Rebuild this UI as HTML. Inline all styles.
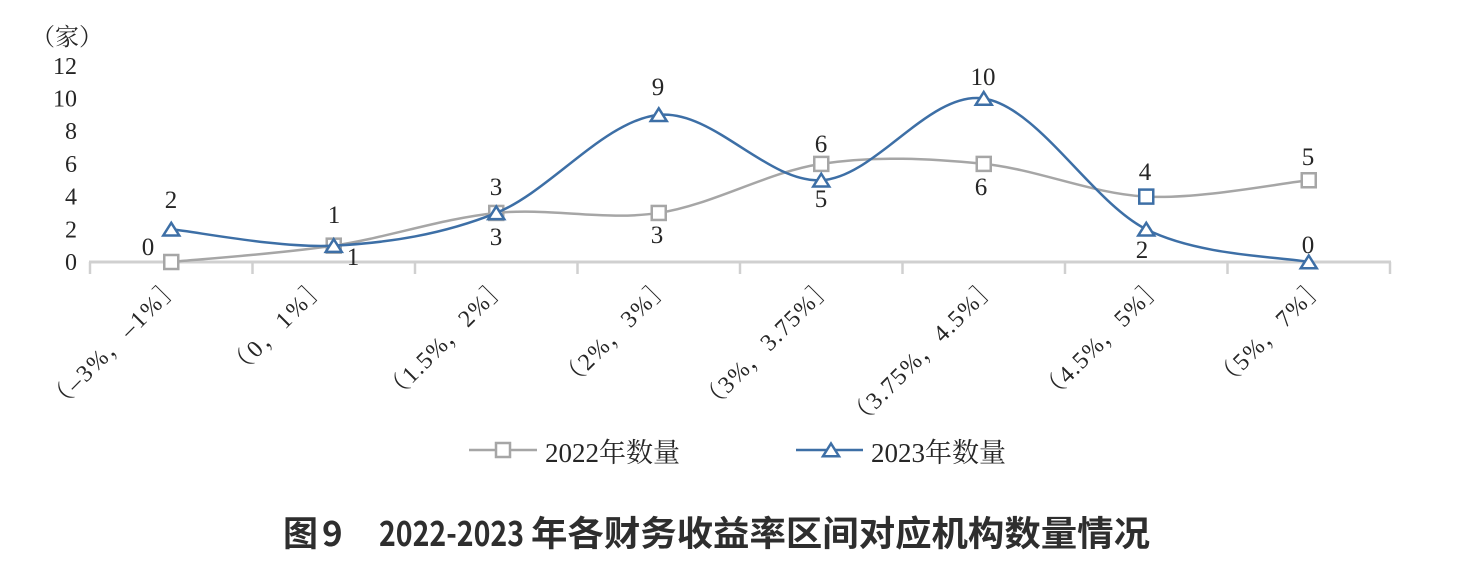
<!DOCTYPE html>
<html><head><meta charset="utf-8"><style>
html,body{margin:0;padding:0;background:#fff;}
svg{display:block;}
.t{font-family:"Liberation Serif","Noto Serif CJK SC",serif;fill:#262626;}
</style></head><body>
<svg width="1484" height="580" viewBox="0 0 1484 580" xmlns="http://www.w3.org/2000/svg">
<rect width="1484" height="580" fill="#fff"/>
<!-- unit label -->
<text class="t" x="31" y="45" font-size="24" textLength="72" lengthAdjust="spacingAndGlyphs">（家）</text>
<!-- y labels -->
<g class="t" font-size="24" text-anchor="end">
<text x="77" y="270">0</text>
<text x="77" y="237.3">2</text>
<text x="77" y="204.6">4</text>
<text x="77" y="171.9">6</text>
<text x="77" y="139.2">8</text>
<text x="77" y="106.5">10</text>
<text x="77" y="73.8">12</text>
</g>
<!-- axis -->
<line x1="89" y1="262" x2="1391" y2="262" stroke="#d0d0d0" stroke-width="3"/>
<g stroke="#d0d0d0" stroke-width="2.5">
<line x1="90" y1="262" x2="90" y2="274"/>
<line x1="252.5" y1="262" x2="252.5" y2="274"/>
<line x1="415" y1="262" x2="415" y2="274"/>
<line x1="577.5" y1="262" x2="577.5" y2="274"/>
<line x1="740" y1="262" x2="740" y2="274"/>
<line x1="902.5" y1="262" x2="902.5" y2="274"/>
<line x1="1065" y1="262" x2="1065" y2="274"/>
<line x1="1227.5" y1="262" x2="1227.5" y2="274"/>
<line x1="1390" y1="262" x2="1390" y2="274"/>
</g>
<!-- x labels -->
<g class="t" font-size="24" text-anchor="end">
<text transform="translate(182,287) rotate(-45)" textLength="176" lengthAdjust="spacing">（–3%，–1%］</text>
<text transform="translate(328,287) rotate(-45)" textLength="128" lengthAdjust="spacing">（0，1%］</text>
<text transform="translate(509,287) rotate(-45)" textLength="163" lengthAdjust="spacing">（1.5%，2%］</text>
<text transform="translate(672,287) rotate(-45)" textLength="145" lengthAdjust="spacing">（2%，3%］</text>
<text transform="translate(835,287) rotate(-45)" textLength="177" lengthAdjust="spacing">（3%，3.75%］</text>
<text transform="translate(999,287) rotate(-45)" textLength="200" lengthAdjust="spacing">（3.75%，4.5%］</text>
<text transform="translate(1165,287) rotate(-45)" textLength="163" lengthAdjust="spacing">（4.5%，5%］</text>
<text transform="translate(1327,287) rotate(-45)" textLength="145" lengthAdjust="spacing">（5%，7%］</text>
</g>
<!-- 2022 series -->
<path d="M171.25,262 C198.33,259.28 279.58,253.83 333.75,245.65 C387.92,237.48 442.08,218.4 496.25,212.95 C550.42,207.5 604.58,221.13 658.75,212.95 C712.92,204.78 767.08,172.08 821.25,163.9 C875.42,155.73 929.58,158.45 983.75,163.9 C1037.92,169.35 1092.08,193.88 1146.25,196.6 C1200.42,199.33 1281.67,182.98 1308.75,180.25" fill="none" stroke="#a6a6a6" stroke-width="2.5"/>
<g fill="#fff" stroke="#a6a6a6" stroke-width="2.5">
<rect x="164.25" y="255" width="14" height="14"/>
<rect x="326.75" y="238.65" width="14" height="14"/>
<rect x="489.25" y="205.95" width="14" height="14"/>
<rect x="651.75" y="205.95" width="14" height="14"/>
<rect x="814.25" y="156.9" width="14" height="14"/>
<rect x="976.75" y="156.9" width="14" height="14"/>
<rect x="1301.75" y="173.25" width="14" height="14"/>
</g>
<!-- 2023 series -->
<path d="M171.25,229.3 C198.33,232.03 279.58,248.38 333.75,245.65 C387.92,242.93 442.08,234.75 496.25,212.95 C550.42,191.15 604.58,120.3 658.75,114.85 C712.92,109.4 767.08,182.98 821.25,180.25 C875.42,177.53 929.58,90.33 983.75,98.5 C1037.92,106.68 1092.08,202.05 1146.25,229.3 C1200.42,256.55 1281.67,256.55 1308.75,262" fill="none" stroke="#3d6fa6" stroke-width="2.5"/>
<rect x="1139.25" y="189.6" width="14" height="14" fill="#fff" stroke="#3d6fa6" stroke-width="2.5"/>
<g fill="#fff" stroke="#3d6fa6" stroke-width="2.5" stroke-linejoin="miter">
<path d="M171.25,222.8 L179.25,235.5 L163.25,235.5 Z"/>
<path d="M333.75,239.15 L341.75,251.85 L325.75,251.85 Z"/>
<path d="M496.25,206.45 L504.25,219.15 L488.25,219.15 Z"/>
<path d="M658.75,108.35 L666.75,121.05 L650.75,121.05 Z"/>
<path d="M821.25,173.75 L829.25,186.45 L813.25,186.45 Z"/>
<path d="M983.75,92 L991.75,104.7 L975.75,104.7 Z"/>
<path d="M1146.25,222.8 L1154.25,235.5 L1138.25,235.5 Z"/>
<path d="M1308.75,255.5 L1316.75,268.2 L1300.75,268.2 Z"/>
</g>
<!-- data labels -->
<g class="t" font-size="25" text-anchor="middle">
<text x="148" y="255">0</text>
<text x="171" y="208">2</text>
<text x="334" y="223">1</text>
<text x="353" y="265">1</text>
<text x="496" y="195">3</text>
<text x="496" y="245">3</text>
<text x="658" y="95">9</text>
<text x="657" y="243">3</text>
<text x="821" y="152">6</text>
<text x="821" y="207">5</text>
<text x="983" y="85">10</text>
<text x="981" y="195">6</text>
<text x="1145" y="180">4</text>
<text x="1142" y="258">2</text>
<text x="1308" y="165">5</text>
<text x="1308" y="253">0</text>
</g>
<!-- legend -->
<line x1="469" y1="450" x2="537" y2="450" stroke="#a6a6a6" stroke-width="2.5"/>
<rect x="496" y="443" width="14" height="14" fill="#fff" stroke="#a6a6a6" stroke-width="2.5"/>
<text class="t" x="545" y="462" font-size="27" textLength="135" lengthAdjust="spacingAndGlyphs">2022年数量</text>
<line x1="796" y1="450" x2="863" y2="450" stroke="#3d6fa6" stroke-width="2.5"/>
<path d="M831,443.5 L839,456.2 L823,456.2 Z" fill="#fff" stroke="#3d6fa6" stroke-width="2.5"/>
<text class="t" x="871" y="462" font-size="27" textLength="135" lengthAdjust="spacingAndGlyphs">2023年数量</text>
<!-- title -->
<g font-family="'Noto Sans CJK SC','WenQuanYi Zen Hei',sans-serif" font-weight="bold" font-size="35" fill="#2e2e2e">
<text x="283" y="546">图</text>
<text x="322" y="546">9</text>
<text x="379" y="546" textLength="145" lengthAdjust="spacingAndGlyphs">2022-2023</text>
<text x="531" y="546" textLength="619" lengthAdjust="spacingAndGlyphs">年各财务收益率区间对应机构数量情况</text>
</g>
</svg>
</body></html>
